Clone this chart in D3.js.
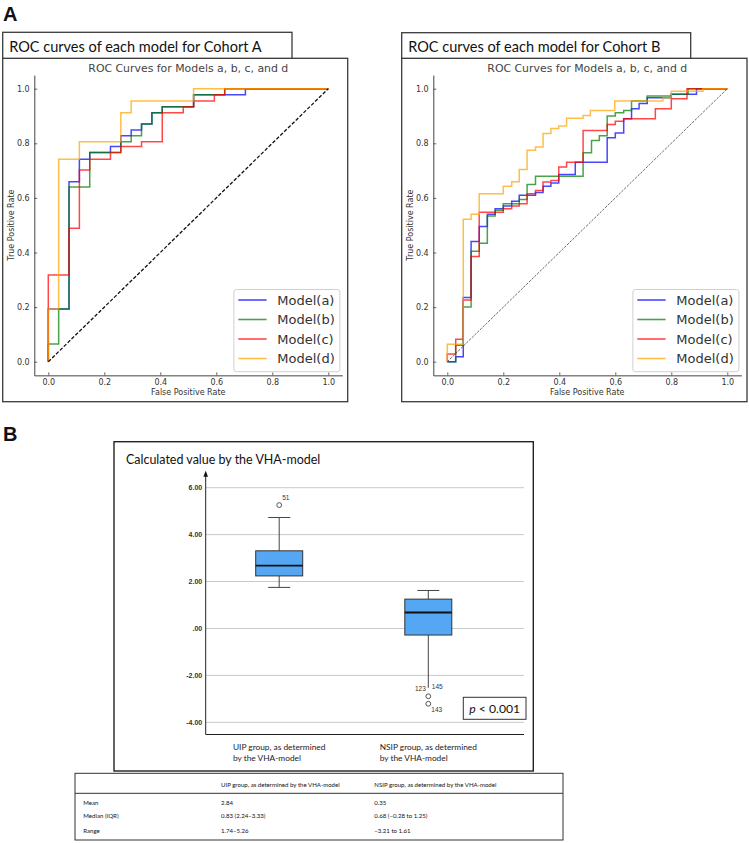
<!DOCTYPE html>
<html><head><meta charset="utf-8">
<script src="https://cdn.jsdelivr.net/npm/d3@7"></script>
<style>body{margin:0;background:#fff}svg{display:block}</style>
</head><body>
<svg id="c" width="749" height="843"></svg>
<script>
// ---------------- DATA ----------------
const rocTicks = [0, 0.2, 0.4, 0.6, 0.8, 1.0];
const modelNames = ["Model(a)", "Model(b)", "Model(c)", "Model(d)"];
const modelColors = ["blue", "green", "red", "orange"];

const rocA_a = [[0,0],[0,0.193],[0.074,0.659],[0.111,0.742],[0.148,0.766],[0.222,0.788],[0.259,0.828],[0.296,0.849],[0.333,0.871],[0.370,0.912],[0.407,0.934],[0.519,0.978],[0.704,1],[1,1]];
const rocA_b = [[0,0],[0,0.065],[0.037,0.193],[0.074,0.64],[0.148,0.766],[0.259,0.806],[0.296,0.828],[0.333,0.871],[0.370,0.912],[0.407,0.934],[0.519,0.978],[0.630,1],[1,1]];
const rocA_c = [[0,0],[0,0.318],[0.074,0.489],[0.111,0.702],[0.148,0.742],[0.222,0.766],[0.259,0.788],[0.333,0.806],[0.407,0.912],[0.482,0.934],[0.519,0.955],[0.593,0.978],[0.630,1],[1,1]];
const rocA_d = [[0,0],[0,0.193],[0.037,0.742],[0.111,0.806],[0.259,0.912],[0.296,0.955],[0.519,1],[1,1]];

const rocB_a = [[0,0],[0.03,0.018],[0.057,0.235],[0.085,0.44],[0.114,0.495],[0.143,0.54],[0.171,0.56],[0.2,0.57],[0.23,0.588],[0.257,0.61],[0.315,0.62],[0.342,0.643],[0.37,0.655],[0.398,0.686],[0.457,0.731],[0.571,0.82],[0.6,0.838],[0.63,0.89],[0.658,0.927],[0.685,0.946],[0.714,0.967],[0.8,0.98],[0.89,1],[1,1]];
const rocB_b = [[0,0],[0.03,0.06],[0.057,0.2],[0.085,0.405],[0.114,0.434],[0.143,0.534],[0.171,0.555],[0.2,0.579],[0.257,0.594],[0.285,0.649],[0.315,0.679],[0.485,0.765],[0.515,0.81],[0.543,0.828],[0.571,0.9],[0.6,0.912],[0.63,0.92],[0.658,0.955],[0.714,0.973],[0.8,0.98],[0.86,1],[1,1]];
const rocB_c = [[0,0],[0,0.028],[0.03,0.082],[0.057,0.226],[0.085,0.385],[0.114,0.547],[0.2,0.56],[0.23,0.57],[0.257,0.579],[0.285,0.615],[0.315,0.627],[0.342,0.658],[0.37,0.664],[0.398,0.713],[0.426,0.731],[0.485,0.847],[0.571,0.869],[0.6,0.881],[0.63,0.89],[0.743,0.927],[0.8,0.963],[0.856,1],[1,1]];
const rocB_d = [[0,0],[0,0.064],[0.057,0.522],[0.085,0.54],[0.114,0.615],[0.2,0.643],[0.23,0.659],[0.257,0.704],[0.285,0.775],[0.315,0.786],[0.342,0.836],[0.37,0.854],[0.398,0.863],[0.426,0.892],[0.485,0.902],[0.511,0.92],[0.598,0.955],[0.77,0.967],[0.8,0.991],[0.913,1],[1,1]];

const boxGroupsLine1 = ["UIP group, as determined", "NSIP group, as determined"];
const boxGroupsLine2 = ["by the VHA-model", "by the VHA-model"];
const boxWhiskerLow  = [1.75, -2.53];
const boxQ1          = [2.24, -0.28];
const boxMedian      = [2.68, 0.68];
const boxQ3          = [3.31, 1.25];
const boxWhiskerHigh = [4.73, 1.62];
const outlierGroup   = [0, 1, 1];
const outlierValue   = [5.26, -2.89, -3.21];
const outlierIds     = [["51"], ["123", "145"], ["143"]];
const boxTicks       = [6, 4, 2, 0, -2, -4];
const boxTickLabels  = ["6.00", "4.00", "2.00", ".00", "-2.00", "-4.00"];

const tableHeader = ["", "UIP group, as determined by the VHA-model", "NSIP group, as determined by the VHA-model"];
const tableRowNames = ["Mean", "Median (IQR)", "Range"];
const tableUIP  = ["2.84", "0.83 (2.24\u20133.33)", "1.74\u20135.26"];
const tableNSIP = ["0.35", "0.68 (\u22120.28 to 1.25)", "\u22123.21 to 1.61"];

// ---------------- DRAW ----------------
const svg = d3.select("#c");
const CAL = "Lato, 'Open Sans', sans-serif";
const DJ = "'DejaVu Sans', sans-serif";

function fitWidth(sel, w) {
  const n = sel.node();
  const cur = n.getComputedTextLength();
  const fs = parseFloat(sel.attr("font-size"));
  const nfs = fs * w / cur;
  sel.attr("font-size", nfs);
  return nfs;
}

// Panel letters
svg.append("text").attr("x", 3).attr("y", 21).text("A")
  .attr("font-family", "'Liberation Sans', Arial, sans-serif").attr("font-weight", "bold").attr("font-size", 20).attr("fill", "#111");
svg.append("text").attr("x", 3).attr("y", 441).text("B")
  .attr("font-family", "'Liberation Sans', Arial, sans-serif").attr("font-weight", "bold").attr("font-size", 20).attr("fill", "#111");

function rocPanel(cfg) {
  const g = svg.append("g");
  // frames
  g.append("rect").attr("x", cfg.boxX).attr("y", 58.3).attr("width", cfg.boxW).attr("height", 343.4)
    .attr("fill", "none").attr("stroke", "#3a3a3a").attr("stroke-width", 1.3);
  g.append("rect").attr("x", cfg.boxX).attr("y", cfg.titleY).attr("width", cfg.titleW).attr("height", 58.3 - cfg.titleY)
    .attr("fill", "#fff").attr("stroke", "#3a3a3a").attr("stroke-width", 1.3);
  const t = g.append("text").attr("x", cfg.boxX + 6.5).attr("y", 51.5).text(cfg.title)
    .attr("font-family", CAL).attr("font-size", 17).attr("fill", "#111");
  fitWidth(t, 252.5);

  const x = d3.scaleLinear().domain([-0.05, 1.05]).range([cfg.x0 - 14, cfg.x0 + 294]);
  const y = d3.scaleLinear().domain([-0.05, 1.05]).range([375.35, 75.05]);

  // subtitle
  g.append("text").attr("x", x(0.5)).attr("y", 72).attr("text-anchor", "middle")
    .text("ROC Curves for Models a, b, c, and d").attr("font-family", DJ).attr("font-size", 10.9).attr("fill", "#444");

  const ax = g.append("g").attr("transform", `translate(0,${y(-0.05)})`)
    .call(d3.axisBottom(x).tickValues(rocTicks).tickFormat(d3.format(".1f")).tickSizeInner(-3).tickSizeOuter(0).tickPadding(3.6));
  const ay = g.append("g").attr("transform", `translate(${x(-0.05)},0)`)
    .call(d3.axisLeft(y).tickValues(rocTicks).tickFormat(d3.format(".1f")).tickSizeInner(-3).tickSizeOuter(0).tickPadding(4.6));
  [ax, ay].forEach(a => {
    a.selectAll("text").attr("font-family", DJ).attr("font-size", 8).attr("fill", "#333");
    a.select(".domain").attr("stroke", "#444").attr("stroke-width", 1);
    a.selectAll(".tick line").attr("stroke", "#444").attr("stroke-width", 0.8);
  });
  g.append("text").attr("x", x(0.5)).attr("y", 395).attr("text-anchor", "middle").text("False Positive Rate")
    .attr("font-family", DJ).attr("font-size", 8).attr("fill", "#333");
  g.append("text").attr("transform", `translate(${cfg.x0 - 37.3},${y(0.5)}) rotate(-90)`).attr("text-anchor", "middle")
    .attr("dy", "0.35em").text("True Positive Rate").attr("font-family", DJ).attr("font-size", 8).attr("fill", "#333");

  const line = d3.line().x(d => x(d[0])).y(d => y(d[1])).curve(d3.curveStepAfter);
  cfg.series.forEach((s, i) => {
    g.append("path").attr("d", line(s)).attr("fill", "none").attr("stroke", modelColors[i])
      .attr("stroke-opacity", 0.72).attr("stroke-width", 1.5);
  });
  g.append("path").attr("d", d3.line().x(d => x(d[0])).y(d => y(d[1]))([[0, 0], [1, 1]]))
    .attr("fill", "none").attr("stroke", cfg.diagColor).attr("stroke-width", cfg.diagW).attr("stroke-dasharray", cfg.diagDash);

  // legend
  const lx = x(1.05) - 108.4, ly = 289.5;
  g.append("rect").attr("x", lx).attr("y", ly).attr("width", 106).attr("height", 82.2).attr("rx", 2.5)
    .attr("fill", "#fff").attr("fill-opacity", 0.85).attr("stroke", "#d0d0d0").attr("stroke-width", 1);
  modelNames.forEach((m, i) => {
    const yy = ly + 10.5 + i * 19.5;
    g.append("line").attr("x1", lx + 4.4).attr("x2", lx + 32.7).attr("y1", yy).attr("y2", yy)
      .attr("stroke", modelColors[i]).attr("stroke-opacity", 0.72).attr("stroke-width", 1.6);
    g.append("text").attr("x", lx + 43.4).attr("y", yy).attr("dy", "0.36em").text(m)
      .attr("font-family", DJ).attr("font-size", 13).attr("fill", "#333");
  });
}

rocPanel({ boxX: 2.7, boxW: 345, titleY: 32.3, titleW: 289.3, title: "ROC curves of each model for Cohort A",
  x0: 48.3, series: [rocA_a, rocA_b, rocA_c, rocA_d], diagColor: "#111", diagW: 1.3, diagDash: "3.6,1.8" });
rocPanel({ boxX: 401.7, boxW: 345.3, titleY: 32.7, titleW: 289, title: "ROC curves of each model for Cohort B",
  x0: 447.3, series: [rocB_a, rocB_b, rocB_c, rocB_d], diagColor: "#444", diagW: 0.8, diagDash: "2.6,1.2" });

// ---------------- Box plot panel ----------------
const gb = svg.append("g");
gb.append("rect").attr("x", 114).attr("y", 441.7).attr("width", 419.3).attr("height", 329.3)
  .attr("fill", "none").attr("stroke", "#222").attr("stroke-width", 1.4);
const bt = gb.append("text").attr("x", 126).attr("y", 463.5).text("Calculated value by the VHA-model")
  .attr("font-family", CAL).attr("font-size", 14).attr("fill", "#111");
fitWidth(bt, 194.5);

const yB = d3.scaleLinear().domain([-4, 6]).range([722.3, 487.7]);
const xB = d3.scalePoint().domain([0, 1]).range([279.2, 428.3]);
const axL = 205.7, axR = 524;
// gridlines
gb.selectAll(".grid").data(boxTicks).enter().append("line")
  .attr("x1", axL).attr("x2", axR).attr("y1", d => yB(d)).attr("y2", d => yB(d))
  .attr("stroke", "#c9c9c9").attr("stroke-width", 1);
// y-axis labels
const yAx = gb.append("g").attr("transform", `translate(${axL},0)`)
  .call(d3.axisLeft(yB).tickValues(boxTicks).tickFormat((d, i) => boxTickLabels[i]).tickSize(0).tickPadding(3.5));
yAx.select(".domain").remove();
yAx.selectAll("text").attr("font-family", "'Liberation Sans', Arial, sans-serif").attr("font-size", 7)
  .attr("font-weight", "bold").attr("fill", "#333");
// axes lines
gb.append("line").attr("x1", axL).attr("x2", axL).attr("y1", yB(-4.52)).attr("y2", yB(6.62)).attr("stroke", "#222").attr("stroke-width", 1);
gb.append("line").attr("x1", axL).attr("x2", axR).attr("y1", yB(-4.52)).attr("y2", yB(-4.52)).attr("stroke", "#222").attr("stroke-width", 1.2);
gb.append("path").attr("d", `M${axL},${yB(6.72)} L${axL - 2.3},${yB(6.72) + 6} L${axL + 2.3},${yB(6.72) + 6} Z`).attr("fill", "#111");

// boxes
const bw = 47, capW = 22;
[0, 1].forEach(i => {
  const cx = xB(i);
  gb.append("line").attr("x1", cx).attr("x2", cx).attr("y1", yB(boxWhiskerHigh[i])).attr("y2", yB(boxQ3[i])).attr("stroke", "#444");
  gb.append("line").attr("x1", cx).attr("x2", cx).attr("y1", yB(boxQ1[i])).attr("y2", yB(boxWhiskerLow[i])).attr("stroke", "#444");
  gb.append("line").attr("x1", cx - capW / 2).attr("x2", cx + capW / 2).attr("y1", yB(boxWhiskerHigh[i])).attr("y2", yB(boxWhiskerHigh[i])).attr("stroke", "#444");
  if (i === 0) gb.append("line").attr("x1", cx - capW / 2).attr("x2", cx + capW / 2).attr("y1", yB(boxWhiskerLow[i])).attr("y2", yB(boxWhiskerLow[i])).attr("stroke", "#444");
  gb.append("rect").attr("x", cx - bw / 2).attr("y", yB(boxQ3[i])).attr("width", bw).attr("height", yB(boxQ1[i]) - yB(boxQ3[i]))
    .attr("fill", "#55a7f3").attr("stroke", "#333").attr("stroke-width", 1);
  gb.append("line").attr("x1", cx - bw / 2).attr("x2", cx + bw / 2).attr("y1", yB(boxMedian[i])).attr("y2", yB(boxMedian[i]))
    .attr("stroke", "#111").attr("stroke-width", 1.8);
});
// outliers
const labOff = { "51": [3, -5, "start"], "123": [-2.5, -5.5, "end"], "145": [3.5, -7, "start"], "143": [3, 8.5, "start"] };
outlierValue.forEach((v, k) => {
  const cx = xB(outlierGroup[k]), cy = yB(v);
  gb.append("circle").attr("cx", cx).attr("cy", cy).attr("r", 2.4).attr("fill", "#fff").attr("stroke", "#444").attr("stroke-width", 0.9);
  outlierIds[k].forEach(id => {
    const o = labOff[id];
    gb.append("text").attr("x", cx + o[0]).attr("y", cy + o[1]).attr("text-anchor", o[2]).text(id)
      .attr("font-family", "'Liberation Sans', Arial, sans-serif").attr("font-size", 6.5).attr("fill", "#333");
  });
});
// category labels
let catFs = null;
[0, 1].forEach(i => {
  const t1 = gb.append("text").attr("y", 750).text(boxGroupsLine1[i]).attr("font-family", CAL).attr("font-size", catFs || 10).attr("fill", "#222");
  if (!catFs) catFs = fitWidth(t1, 92.7);
  const w = t1.node().getComputedTextLength();
  const sx = xB(i) - w / 2;
  t1.attr("x", sx);
  gb.append("text").attr("x", sx).attr("y", 760.5).text(boxGroupsLine2[i]).attr("font-family", CAL).attr("font-size", catFs).attr("fill", "#222");
});
// p-value box
gb.append("rect").attr("x", 463.3).attr("y", 697.3).attr("width", 62.7).attr("height", 22).attr("fill", "#fff").attr("stroke", "#333").attr("stroke-width", 1);
const pt = gb.append("text").attr("x", 494.7).attr("y", 713).attr("text-anchor", "middle")
  .attr("font-family", CAL).attr("font-size", 14).attr("fill", "#111");
pt.append("tspan").attr("font-style", "italic").text("p");
pt.append("tspan").text(" < 0.001");
fitWidth(pt, 51);

// ---------------- Table ----------------
const gt = svg.append("g");
const tX0 = 75, tX1 = 563, tTop = 773.3, tHead = 793.3, tBot = 840;
gt.append("rect").attr("x", tX0).attr("y", tTop).attr("width", tX1 - tX0).attr("height", tBot - tTop).attr("fill", "none").attr("stroke", "#333").attr("stroke-width", 1);
gt.append("line").attr("x1", tX0).attr("x2", tX1).attr("y1", tHead).attr("y2", tHead).attr("stroke", "#333").attr("stroke-width", 1);
const colX = [83.3, 221, 374.3];
const h1 = gt.append("text").attr("x", colX[1]).attr("y", 786.8).text(tableHeader[1]).attr("font-family", CAL).attr("font-size", 10).attr("fill", "#111");
const tfs = fitWidth(h1, 119);
gt.append("text").attr("x", colX[2]).attr("y", 786.8).text(tableHeader[2]).attr("font-family", CAL).attr("font-size", tfs).attr("fill", "#111");
const rowY = [804.5, 817.7, 832.7];
tableRowNames.forEach((r, i) => {
  [r, tableUIP[i], tableNSIP[i]].forEach((v, j) => {
    gt.append("text").attr("x", colX[j]).attr("y", rowY[i]).text(v).attr("font-family", CAL).attr("font-size", tfs).attr("fill", "#111");
  });
});
</script>
</body></html>
